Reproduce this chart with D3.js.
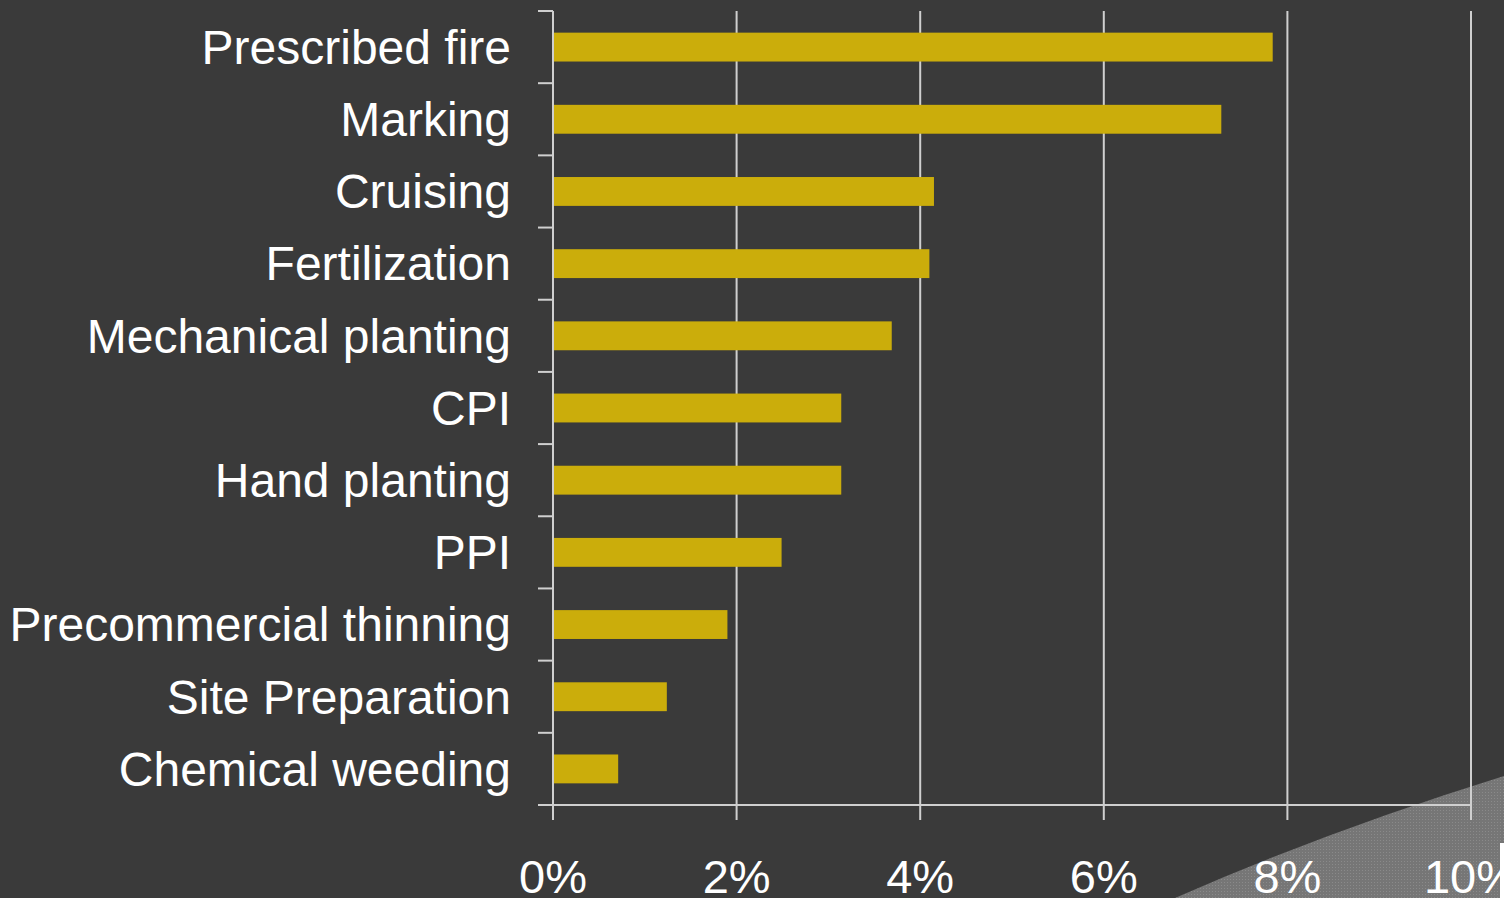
<!DOCTYPE html>
<html><head><meta charset="utf-8">
<script src="https://cdn.jsdelivr.net/npm/d3@7"></script>
<style>html,body{margin:0;padding:0;background:#3a3a3a;overflow:hidden}</style>
</head><body>
<svg id="c" width="1504" height="898"></svg>
<script>
const categories = ["Prescribed fire","Marking","Cruising","Fertilization","Mechanical planting","CPI","Hand planting","PPI","Precommercial thinning","Site Preparation","Chemical weeding"];
const values = [7.84,7.28,4.15,4.10,3.69,3.14,3.14,2.49,1.90,1.24,0.71];
const xTicks = [0,2,4,6,8,10];

const svg = d3.select("#c");
const W=1504,H=898;
const m={left:553,right:33,top:11,bottom:93};
const x=d3.scaleLinear().domain([0,10]).range([m.left,W-m.right]);
const y=d3.scaleBand().domain(categories).range([m.top,H-m.bottom]).paddingInner(0.6).paddingOuter(0.3);

svg.append("rect").attr("width",W).attr("height",H).attr("fill","#3a3a3a");

// decorative swoosh with dotted texture
const defs=svg.append("defs");
const pat=defs.append("pattern").attr("id","dots").attr("width",3).attr("height",3).attr("patternUnits","userSpaceOnUse");
pat.append("rect").attr("width",3).attr("height",3).attr("fill","#767676");
pat.append("rect").attr("width",1).attr("height",1).attr("fill","#8a8a8a");
svg.append("path").attr("d","M1175,898 Q1330,830 1504,776 L1504,898 Z").attr("fill","url(#dots)");

const g=svg.append("g");
// gridlines
g.selectAll("line.grid").data(xTicks.slice(1)).join("line")
 .attr("x1",d=>x(d)).attr("x2",d=>x(d)).attr("y1",m.top).attr("y2",H-m.bottom+15)
 .attr("stroke","#cfcfcf").attr("stroke-width",2);

// bars
g.selectAll("rect.bar").data(values).join("rect")
 .attr("x",x(0)).attr("y",(d,i)=>y(categories[i]))
 .attr("width",d=>x(d)-x(0)).attr("height",y.bandwidth())
 .attr("fill","#cbad0b");

// y axis
const yAxisG=svg.append("g").attr("transform",`translate(${m.left},0)`);
const bandStep=(H-m.bottom-m.top)/categories.length;
yAxisG.append("line").attr("x1",0).attr("x2",0).attr("y1",m.top).attr("y2",H-m.bottom+15).attr("stroke","#cfcfcf").attr("stroke-width",2);
yAxisG.selectAll("line.t").data(d3.range(categories.length+1)).join("line")
 .attr("x1",-15).attr("x2",0).attr("y1",i=>m.top+i*bandStep).attr("y2",i=>m.top+i*bandStep)
 .attr("stroke","#cfcfcf").attr("stroke-width",2);
yAxisG.selectAll("text").data(categories).join("text")
 .attr("x",-42).attr("y",d=>y(d)+y.bandwidth()/2).attr("dy","0.35em")
 .attr("text-anchor","end").attr("fill","#ffffff")
 .attr("font-family","Liberation Sans, Arial, sans-serif").attr("font-size",48).text(d=>d);

// x axis
const xAxisG=svg.append("g");
xAxisG.append("line").attr("x1",m.left-15).attr("x2",x(10)).attr("y1",H-m.bottom).attr("y2",H-m.bottom).attr("stroke","#cfcfcf").attr("stroke-width",2);
xAxisG.selectAll("text").data(xTicks).join("text")
 .attr("x",d=>x(d)).attr("y",893).attr("text-anchor","middle").attr("fill","#ffffff")
 .attr("font-family","Liberation Sans, Arial, sans-serif").attr("font-size",47).text(d=>d+"%");

svg.append("rect").attr("x",1500).attr("y",843).attr("width",4).attr("height",55).attr("fill","#ffffff");
</script>
</body></html>
